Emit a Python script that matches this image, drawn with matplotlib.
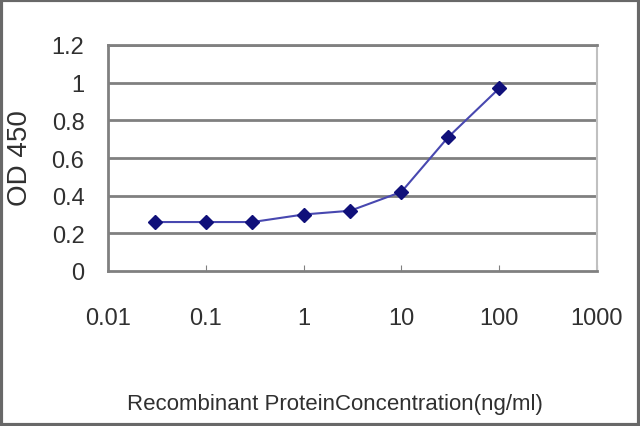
import numpy as np
import matplotlib.pyplot as plt
from matplotlib.patches import Rectangle

# data
conc = [0.03, 0.1, 0.3, 1, 3, 10, 30, 100]
od450 = [0.26, 0.26, 0.26, 0.30, 0.32, 0.42, 0.71, 0.97]
yticks = [0, 0.2, 0.4, 0.6, 0.8, 1, 1.2]
ytick_labels = ['0', '0.2', '0.4', '0.6', '0.8', '1', '1.2']
xticks = [0.01, 0.1, 1, 10, 100, 1000]
xtick_labels = ['0.01', '0.1', '1', '10', '100', '1000']

plt.rcParams['font.family'] = ['Liberation Sans', 'DejaVu Sans']

fig = plt.figure(figsize=(6.4, 4.27), dpi=100)
ax = fig.add_axes([108 / 640, 1 - 272 / 427, (597 - 108) / 640, (272 - 46) / 427])

# horizontal grid lines
for yv in yticks[1:]:
    ax.axhline(yv, color='#808080', lw=2, zorder=1)

ax.plot(conc, od450, color='#4848b0', lw=1.5, marker='D', markersize=7,
        markerfacecolor='#10107a', markeredgecolor='#10107a', zorder=3)

ax.set_xscale('log')
ax.set_xlim(0.01, 1000)
ax.set_ylim(0, 1.2)
ax.set_xticks(xticks)
ax.set_xticklabels(xtick_labels)
ax.set_yticks(yticks)
ax.set_yticklabels(ytick_labels)
ax.minorticks_off()
ax.tick_params(axis='x', direction='in', length=4, color='#808080',
               labelsize=17, pad=26, labelcolor='#303030')
ax.tick_params(axis='y', length=0, labelsize=17, pad=17, labelcolor='#303030')

for side in ['left', 'bottom', 'top']:
    ax.spines[side].set_color('#808080')
    ax.spines[side].set_linewidth(2)
ax.spines['right'].set_color('#c0c0c0')
ax.spines['right'].set_linewidth(1.5)

fig.text(335 / 640, 1 - 405 / 427, 'Recombinant ProteinConcentration(ng/ml)',
         fontsize=16, color='#303030', ha='center', va='center')
fig.text(20 / 640, 1 - 158 / 427, 'OD 450', fontsize=20, color='#303030',
         ha='center', va='center', rotation=90)

# figure frame
fig.patches.append(Rectangle((0.002, 0.003), 0.996, 0.994, transform=fig.transFigure,
                             fill=False, edgecolor='#686868', lw=3))

fig.savefig('out.png', dpi=100)
